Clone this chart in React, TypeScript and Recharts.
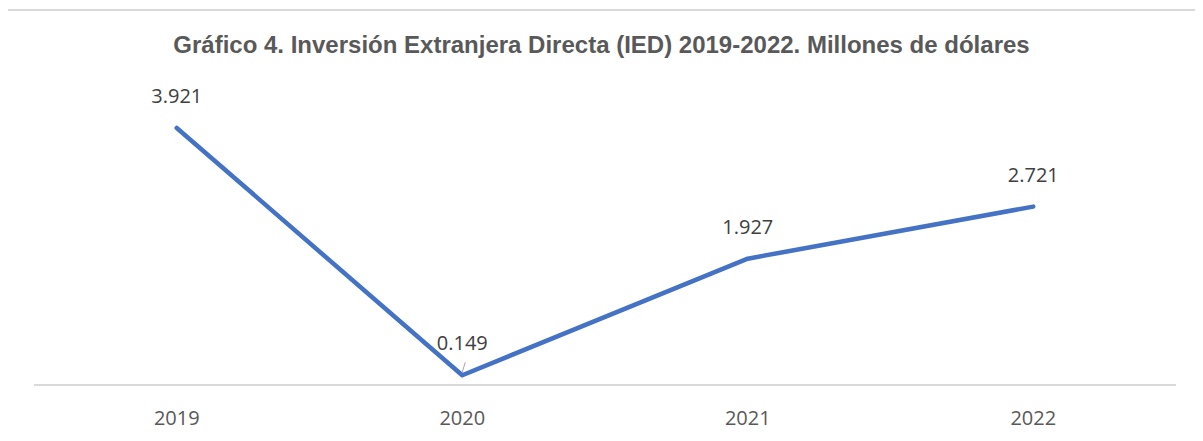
import { LineChart, Line, XAxis, YAxis, LabelList } from 'recharts'

const years = ['2019', '2020', '2021', '2022']
const ied = [3.921, 0.149, 1.927, 2.721]
const labels = ['3.921', '0.149', '1.927', '2.721']

const data = years.map((year, i) => ({ year, ied: ied[i], label: labels[i] }))

const W = 1203
const H = 441

function PointLabel(props: any) {
  const { x, y, value, index } = props
  return (
    <g>
      {index === 1 && (
        <line x1={x} y1={y - 3} x2={x + 3} y2={y - 13} stroke="#a6a6a6" strokeWidth={1} />
      )}
      <text
        x={x}
        y={y - 25}
        textAnchor="middle"
        fontSize={20}
        fontFamily='"Open Sans", sans-serif'
        fill="#404040"
      >
        {value}
      </text>
    </g>
  )
}

export default function App() {
  return (
    <div style={{ margin: -8, position: 'relative', width: W, height: H, overflow: 'hidden', background: '#fff' }}>
      <div
        style={{
          position: 'absolute',
          left: 4,
          top: 9,
          width: 1220,
          height: 460,
          border: '2px solid #d9d9d9',
        }}
      />
      <div
        style={{
          position: 'absolute',
          left: 0,
          top: 32,
          width: W,
          textAlign: 'center',
          fontFamily: '"Liberation Sans", Arial, sans-serif',
          fontWeight: 'bold',
          fontSize: 24,
          color: '#595959',
          lineHeight: '26px',
        }}
      >
        Gráfico 4. Inversión Extranjera Directa (IED) 2019-2022. Millones de dólares
      </div>
      <div style={{ position: 'absolute', left: 0, top: 0 }}>
        <LineChart width={W} height={H} data={data} margin={{ top: 90, right: 27, bottom: 26, left: 34 }}>
          <XAxis
            dataKey="year"
            scale="band"
            height={30}
            axisLine={{ stroke: '#d9d9d9', strokeWidth: 2 }}
            tickLine={false}
            tickSize={0}
            tickMargin={26}
            tick={{ fontSize: 20, fill: '#595959', fontFamily: '"Open Sans", sans-serif' }}
          />
          <YAxis hide domain={[0, 4.5]} />
          <Line
            dataKey="ied"
            stroke="#4472c4"
            strokeWidth={4.5}
            strokeLinejoin="round"
            strokeLinecap="round"
            dot={false}
            activeDot={false}
            isAnimationActive={false}
          >
            <LabelList dataKey="label" content={PointLabel} />
          </Line>
        </LineChart>
      </div>
    </div>
  )
}
